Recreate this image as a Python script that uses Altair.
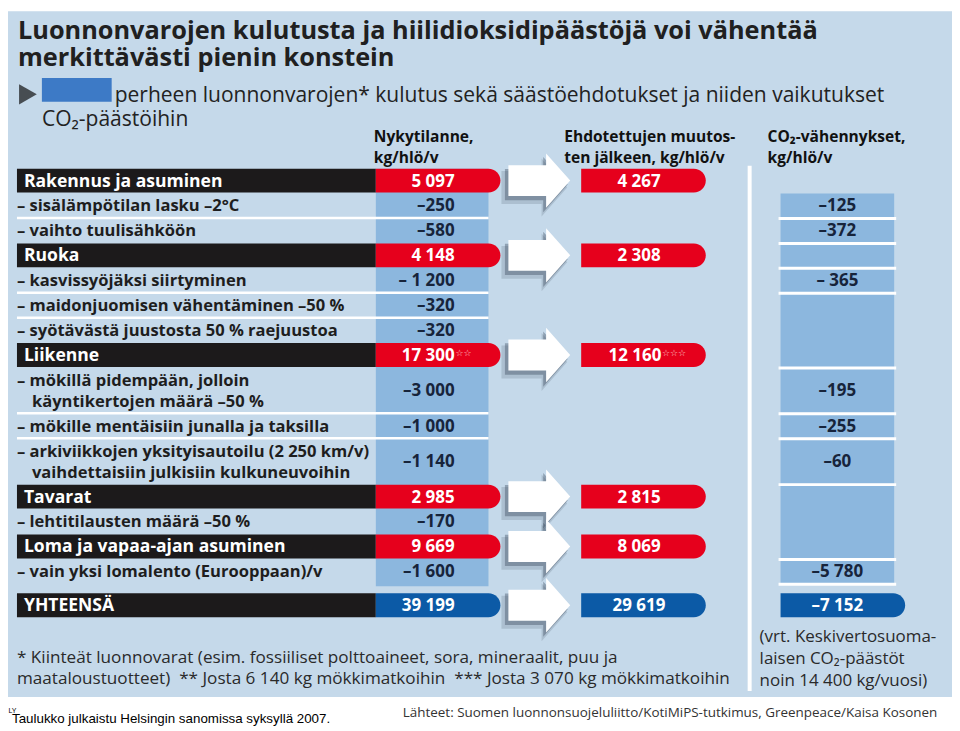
import altair as alt
import pandas as pd

# ---------------- data ----------------
row_label = [
    "Rakennus ja asuminen",
    "– sisälämpötilan lasku –2°C",
    "– vaihto tuulisähköön",
    "Ruoka",
    "– kasvissyöjäksi siirtyminen",
    "– maidonjuomisen vähentäminen –50 %",
    "– syötävästä juustosta 50 % raejuustoa",
    "Liikenne",
    "– mökillä pidempään, jolloin\nkäyntikertojen määrä –50 %",
    "– mökille mentäisiin junalla ja taksilla",
    "– arkiviikkojen yksityisautoilu (2 250 km/v)\nvaihdettaisiin julkisiin kulkuneuvoihin",
    "Tavarat",
    "– lehtitilausten määrä –50 %",
    "Loma ja vapaa-ajan asuminen",
    "– vain yksi lomalento (Eurooppaan)/v",
    "YHTEENSÄ",
]
row_kind = ["cat", "sub", "sub", "cat", "sub", "sub", "sub", "cat", "sub", "sub",
            "sub", "cat", "sub", "cat", "sub", "total"]
now_value = ["5 097", "–250", "–580", "4 148", "– 1 200", "–320", "–320", "17 300",
             "–3 000", "–1 000", "–1 140", "2 985", "–170", "9 669", "–1 600", "39 199"]
now_mark = ["", "", "", "", "", "", "", "☆☆", "", "", "", "", "", "", "", ""]
after_value = ["4 267", "", "", "2 308", "", "", "", "12 160", "", "", "", "2 815",
               "", "8 069", "", "29 619"]
after_mark = ["", "", "", "", "", "", "", "☆☆☆", "", "", "", "", "", "", "", ""]
co2_value = ["", "–125", "–372", "", "– 365", "", "", "", "–195", "–255", "–60", "",
             "", "", "–5 780", "–7 152"]
co2_group = [0, 1, 2, 3, 4, 5, 5, 5, 6, 7, 8, 9, 9, 9, 10, 11]

title_lines = ["Luonnonvarojen kulutusta ja hiilidioksidipäästöjä voi vähentää",
               "merkittävästi pienin konstein"]
subtitle_lines = ["perheen luonnonvarojen* kulutus sekä säästöehdotukset ja niiden vaikutukset",
                  "CO₂-päästöihin"]
header_now = ["Nykytilanne,", "kg/hlö/v"]
header_after = ["Ehdotettujen muutos-", "ten jälkeen, kg/hlö/v"]
header_co2 = ["CO₂-vähennykset,", "kg/hlö/v"]
footnotes = ["* Kiinteät luonnovarat (esim. fossiiliset polttoaineet, sora, mineraalit, puu ja",
             "maataloustuotteet)\u00a0\u00a0** Josta 6 140 kg mökkimatkoihin\u00a0\u00a0*** Josta 3 070 kg mökkimatkoihin"]
compare_note = ["(vrt. Keskivertosuoma-", "laisen CO₂-päästöt", "noin 14 400 kg/vuosi)"]
source_text = "Lähteet: Suomen luonnonsuojeluliitto/KotiMiPS-tutkimus, Greenpeace/Kaisa Kosonen"
caption_text = "Taulukko julkaistu Helsingin sanomissa syksyllä 2007."

# ---------------- style ----------------
FONT = "Open Sans, Noto Sans, DejaVu Sans, sans-serif"
PANEL = "#c5d9ea"
COLBLUE = "#8cb7de"
RED = "#e6001c"
BLACK = "#1c1a1b"
DARKBLUE = "#0c5aa6"
NAVY = "#17243b"
TXT = "#1e1e1e"

LBL_X0, LBL_X1 = 17, 377
NOW_X1, NOW_PILL = 490, 502
ARROW_X = 541
AFT_X0, AFT_X1 = 583, 708
CO2_X0, CO2_X1, CO2_PILL = 783, 897, 908
LINE_H = 21

# ---------------- row geometry ----------------
rows = []
top = 168
for i, (lab, kind) in enumerate(zip(row_label, row_kind)):
    n = lab.count("\n") + 1
    pitch = 25 if n == 1 else 46
    if kind == "total":
        top += 9
    rows.append(dict(i=i, label=lab, kind=kind, n=n, top=top, bot=top + pitch - 1,
                     mid=top + (pitch - 1) / 2, now=now_value[i], now_mark=now_mark[i],
                     after=after_value[i], after_mark=after_mark[i],
                     co2=co2_value[i], grp=co2_group[i]))
    top += pitch
R = pd.DataFrame(rows)

xs = alt.Scale(domain=[8, 955], nice=False, zero=False)
ys = alt.Scale(domain=[8, 727], nice=False, zero=False, reverse=True)


def X(f):
    return alt.X(f, type="quantitative", scale=xs, axis=None)


def Y(f):
    return alt.Y(f, type="quantitative", scale=ys, axis=None)


def rect_layer(df, color, **kw):
    return alt.Chart(df).mark_rect(color=color, **kw).encode(
        x=X("x0"), x2=alt.X2("x1"), y=Y("y0"), y2=alt.Y2("y1"))


def text_layer(df, weight="normal", align="left", baseline="alphabetic", font=FONT, **kw):
    mk = dict(align=align, baseline=baseline, font=font, fontWeight=weight, **kw)
    return alt.Chart(df).mark_text(**mk).encode(
        x=X("x"), y=Y("y"), text="text:N",
        size=alt.Size("size:Q", scale=None, legend=None),
        color=alt.Color("color:N", scale=None, legend=None))


layers = []

# background panel
layers.append(rect_layer(pd.DataFrame([dict(x0=8, x1=955, y0=10, y1=698)]), PANEL))

# value column (current state)
sub_rows = R[R.kind != "total"]
layers.append(rect_layer(pd.DataFrame([dict(x0=LBL_X1, x1=NOW_X1, y0=sub_rows.top.min(),
                                            y1=sub_rows.bot.max() + 3)]), COLBLUE))

# white separators between consecutive sub rows
seps = []
for a, b in zip(rows[:-1], rows[1:]):
    if a["kind"] == "sub" and b["kind"] == "sub":
        seps.append(dict(x0=LBL_X0, x1=NOW_X1, y=(a["bot"] + b["top"]) / 2))
layers.append(alt.Chart(pd.DataFrame(seps)).mark_rule(color="white", strokeWidth=2.5).encode(
    x=X("x0"), x2=alt.X2("x1"), y=Y("y")))

# black label bars
cats = R[R.kind != "sub"].copy()
cats["x0"], cats["x1"], cats["y0"], cats["y1"] = LBL_X0, LBL_X1, cats.top, cats.bot
layers.append(rect_layer(cats, BLACK))

# current value pills
pill = cats.copy()
pill["x0"], pill["x1"] = LBL_X1, NOW_PILL
pill["fill"] = [DARKBLUE if k == "total" else RED for k in pill.kind]
layers.append(alt.Chart(pill).mark_rect(cornerRadiusTopRight=12, cornerRadiusBottomRight=12).encode(
    x=X("x0"), x2=alt.X2("x1"), y=Y("y0"), y2=alt.Y2("y1"),
    color=alt.Color("fill:N", scale=None, legend=None)))

# arrows
ARROW = "M-1,-0.5 L0.22,-0.5 L0.22,-0.88 L1,0 L0.22,0.88 L0.22,0.5 L-1,0.5 Z"
arr = cats[["mid"]].copy()
arr["x"] = ARROW_X
layers.append(alt.Chart(arr).mark_point(shape=ARROW, filled=True, size=66 * 66, color="#1f2d3d",
                                        opacity=0.15, xOffset=-5, yOffset=7, strokeWidth=0).encode(
    x=X("x"), y=Y("mid")))
layers.append(alt.Chart(arr).mark_point(shape=ARROW, filled=True, size=63 * 63, color="#2a3a4c",
                                        opacity=0.35, xOffset=-3, yOffset=4, strokeWidth=0).encode(
    x=X("x"), y=Y("mid")))
layers.append(alt.Chart(arr).mark_point(shape=ARROW, filled=True, size=62 * 62, color="white",
                                        opacity=1, strokeWidth=0).encode(
    x=X("x"), y=Y("mid")))

# after pills
aft = pill.copy()
aft["x0"], aft["x1"] = AFT_X0, AFT_X1
layers.append(alt.Chart(aft).mark_rect(cornerRadiusTopRight=12, cornerRadiusBottomRight=12).encode(
    x=X("x0"), x2=alt.X2("x1"), y=Y("y0"), y2=alt.Y2("y1"),
    color=alt.Color("fill:N", scale=None, legend=None)))

# vertical white divider
layers.append(alt.Chart(pd.DataFrame([dict(x=752, y0=165, y1=692)])).mark_rule(
    color="white", strokeWidth=4).encode(x=X("x"), y=Y("y0"), y2=alt.Y2("y1")))

# CO2 column boxes by group
g = R[(R.grp > 0) & (R.kind != "total")].groupby("grp").agg(y0=("top", "min"), y1=("bot", "max")).reset_index()
g["x0"], g["x1"] = CO2_X0, CO2_X1
layers.append(rect_layer(g, COLBLUE))
gs = pd.DataFrame(dict(x0=CO2_X0 - 2, x1=CO2_X1 + 2, y=g.y1 + 1))
layers.append(alt.Chart(gs).mark_rule(color="white", strokeWidth=3).encode(
    x=X("x0"), x2=alt.X2("x1"), y=Y("y")))
tot = R[R.kind == "total"].copy()
tot["x0"], tot["x1"], tot["y0"], tot["y1"] = CO2_X0, CO2_PILL, tot.top, tot.bot
layers.append(alt.Chart(tot).mark_rect(color=DARKBLUE, cornerRadiusTopRight=12,
                                       cornerRadiusBottomRight=12).encode(
    x=X("x0"), x2=alt.X2("x1"), y=Y("y0"), y2=alt.Y2("y1")))

# ---------------- row texts ----------------
cat_lbl = pd.DataFrame(dict(text=cats.label, x=24, y=cats.mid + 1, size=17.6, color="white"))
layers.append(text_layer(cat_lbl, weight="bold", baseline="middle"))

sub_lines = []
for r in rows:
    if r["kind"] != "sub":
        continue
    for k, line in enumerate(r["label"].split("\n")):
        sub_lines.append(dict(text=line, x=LBL_X0 if k == 0 else 32,
                              y=r["mid"] + 1 + (k - (r["n"] - 1) / 2) * LINE_H,
                              size=16.6, color=TXT))
layers.append(text_layer(pd.DataFrame(sub_lines), weight="bold", baseline="middle"))

now_t = pd.DataFrame(dict(text=R.now, x=456, y=R.mid + 1, size=17,
                          color=[NAVY if k == "sub" else "white" for k in R.kind]))
layers.append(text_layer(now_t, weight="bold", align="right", baseline="middle"))
nm = R[R.now_mark != ""]
layers.append(text_layer(pd.DataFrame(dict(text=nm.now_mark, x=457, y=nm.mid - 2, size=9,
                                           color="#ffd0d0")), baseline="middle"))

at = R[R.after != ""]
at_x = [637 if m else 641 for m in at.after_mark]
layers.append(text_layer(pd.DataFrame(dict(text=at.after, x=at_x, y=at.mid + 1, size=17,
                                           color="white")), weight="bold", align="center",
                         baseline="middle"))
am = R[R.after_mark != ""]
layers.append(text_layer(pd.DataFrame(dict(text=am.after_mark, x=664, y=am.mid - 2, size=9,
                                           color="#ffd0d0")), baseline="middle"))

ct = R[R.co2 != ""]
layers.append(text_layer(pd.DataFrame(dict(text=ct.co2, x=840, y=ct.mid + 1, size=17,
                                           color=["white" if k == "total" else NAVY for k in ct.kind])),
                         weight="bold", align="center", baseline="middle"))

# ---------------- titles & notes ----------------
title = pd.DataFrame(dict(text=title_lines, x=18, y=[38, 65], size=25.4, color="#202020"))
layers.append(text_layer(title, weight="bold"))

layers.append(alt.Chart(pd.DataFrame([dict(x=28, y=93.5)])).mark_point(
    shape="triangle-right", filled=True, size=420, color="#111111", strokeWidth=0).encode(
    x=X("x"), y=Y("y")))
layers.append(rect_layer(pd.DataFrame([dict(x0=42, x1=112, y0=77, y1=101)]), "#3d7ac6"))
sub = pd.DataFrame(dict(text=subtitle_lines, x=[115, 42], y=[101, 125], size=21.1, color="#222222"))
layers.append(text_layer(sub))

heads = pd.DataFrame(dict(text=header_now + header_after + header_co2,
                          x=[375, 375, 566, 566, 770, 770],
                          y=[141, 162, 141, 162, 141, 162], size=15.6, color="#111111"))
layers.append(text_layer(heads, weight="bold"))

fn = pd.DataFrame(dict(text=footnotes + compare_note,
                       x=[17, 17, 762, 762, 762], y=[664, 685, 643, 665, 687],
                       size=[17.2, 17.2, 17, 17, 17], color="#2a2a2a"))
layers.append(text_layer(fn))

layers.append(text_layer(pd.DataFrame(dict(text=[source_text], x=404, y=718, size=13.5,
                                           color="#333333"))))
layers.append(text_layer(pd.DataFrame(dict(text=[caption_text], x=12, y=724, size=13.4,
                                           color="#000000")), font="Liberation Sans, Arial, sans-serif"))
layers.append(text_layer(pd.DataFrame(dict(text=["LY"], x=8.5, y=714, size=7, color="#000000")),
                         font="Liberation Sans, Arial, sans-serif"))

chart = alt.layer(*layers).properties(
    width=947, height=719, padding=0,
    autosize=alt.AutoSizeParams(type="none"),
    background="white",
).configure_view(stroke=None)

chart.save("out.html", embed_options={"renderer": "svg", "actions": False})
